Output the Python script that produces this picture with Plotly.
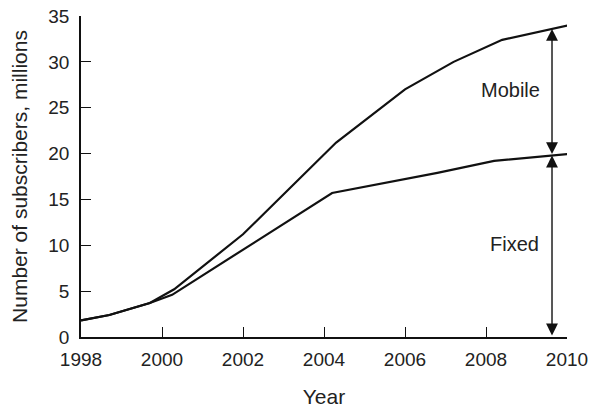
import numpy as np
import plotly.graph_objects as go

# values
fixed_years = [1998, 1998.7, 1999.7, 2000.25, 2004.2, 2005.5, 2006.8, 2008.2, 2010.15]
fixed_subs = [1.8, 2.4, 3.7, 4.6, 15.7, 16.8, 17.9, 19.2, 20.0]

mobile_years = [1998, 1998.7, 1999.7, 2000.3, 2002, 2004.3, 2006, 2007.2, 2008.4, 2010.15]
mobile_subs = [1.8, 2.4, 3.7, 5.2, 11.2, 21.2, 27.0, 30.0, 32.4, 34.1]

year_ticks = [1998, 2000, 2002, 2004, 2006, 2008, 2010]
sub_ticks = [0, 5, 10, 15, 20, 25, 30, 35]

arrow_year = 2009.63
fixed_top = float(np.interp(arrow_year, fixed_years, fixed_subs))
mobile_top = float(np.interp(arrow_year, mobile_years, mobile_subs))

family = "Liberation Sans, Arial, sans-serif"
ink = "#222"

fig = go.Figure()
fig.add_trace(go.Scatter(x=fixed_years, y=fixed_subs, mode="lines",
                         line=dict(color="#111", width=2.2), cliponaxis=False))
fig.add_trace(go.Scatter(x=mobile_years, y=mobile_subs, mode="lines",
                         line=dict(color="#111", width=2.2), cliponaxis=False))

# double headed arrows for the two shares
for lo, hi in [(0, fixed_top), (fixed_top, mobile_top)]:
    fig.add_annotation(x=arrow_year, y=hi, ax=arrow_year, ay=lo,
                       xref="x", yref="y", axref="x", ayref="y",
                       text="", showarrow=True, arrowside="end+start",
                       arrowhead=2, arrowsize=1.7, arrowwidth=1.4,
                       arrowcolor="#111", standoff=0, startstandoff=0)

fig.add_annotation(x=2008.6, y=26.9, text="Mobile", showarrow=False,
                   font=dict(family=family, size=20, color=ink))
fig.add_annotation(x=2008.7, y=10.1, text="Fixed", showarrow=False,
                   font=dict(family=family, size=20, color=ink))

fig.update_layout(
    width=591, height=409,
    margin=dict(l=81, r=24, t=16, b=72),
    paper_bgcolor="white", plot_bgcolor="white",
    showlegend=False, font=dict(family=family, size=17.5, color=ink),
    xaxis=dict(range=[1998, 2010], tickvals=year_ticks, ticks="inside",
               ticklen=10, tickwidth=1.3, tickcolor="#111",
               showline=True, linecolor="#111", linewidth=1.6,
               showgrid=False, zeroline=False, automargin=False,
               ticklabelstandoff=4, ticklabeloverflow="allow",
               tickfont=dict(family=family, size=19, color=ink),
               title=dict(text="Year", standoff=21)),
    yaxis=dict(range=[0, 35], tickvals=sub_ticks, ticks="inside",
               ticklen=10, tickwidth=1.3, tickcolor="#111",
               showline=True, linecolor="#111", linewidth=1.6,
               showgrid=False, zeroline=False, automargin=False,
               ticklabelstandoff=6, ticklabeloverflow="allow",
               tickfont=dict(family=family, size=19, color=ink),
               title=dict(text="Number of subscribers, millions", standoff=15)),
)

# drop the default 8px body margin so the figure fills the window
fig.write_html("out.html", config={"displayModeBar": False},
               post_script="document.body.style.margin = '0';")
